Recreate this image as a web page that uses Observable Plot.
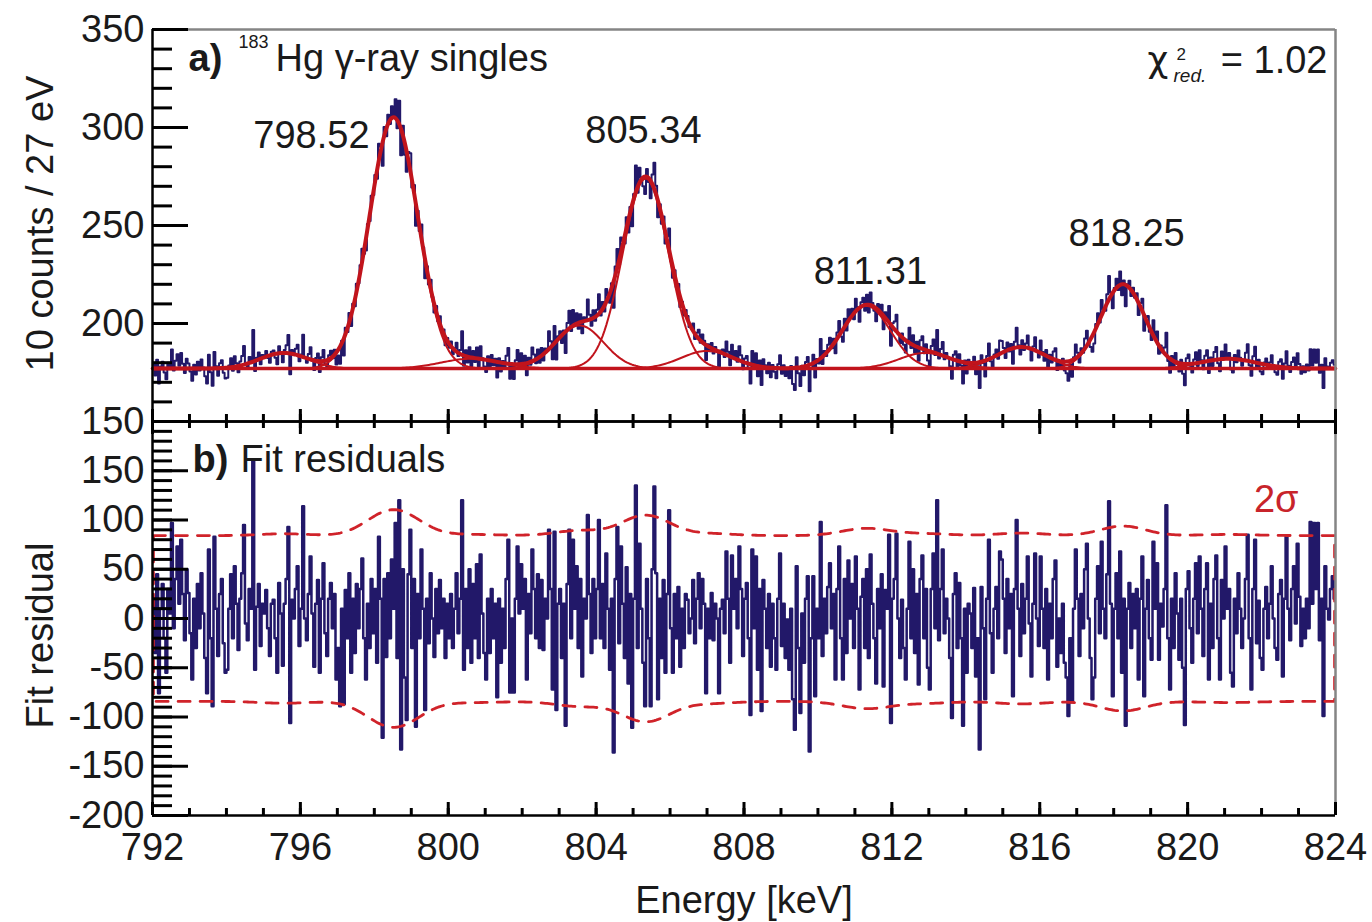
<!DOCTYPE html>
<html><head><meta charset="utf-8">
<script src="https://cdn.jsdelivr.net/npm/d3@7"></script>
<script src="https://cdn.jsdelivr.net/npm/@observablehq/plot@0.6"></script>
<style>
html,body{margin:0;padding:0;background:#fff;}
#wrap{position:relative;width:1372px;height:922px;background:#fff;}
#wrap svg{position:absolute;left:0;top:0;}
</style></head><body><div id="wrap"></div>
<script>
// ---------------- data ----------------
const energyStart = 792;          // keV, first bin edge
const binWidth = 0.05;            // keV per plotted residual sample
// Fit residuals (counts), 20 samples per keV, rows 792 ... 823 keV
const residualRows = [
[20,-35,45,-76,10,35,-20,-55,30,5,97,-10,40,73,15,80,25,-22,50,26],
[-15,-62,20,-30,35,-10,46,5,-40,-76,70,-20,-89,83,10,-38,25,40,-25,-55],
[-52,10,45,-20,53,15,-32,20,46,95,-5,-22,30,10,161,-52,12,35,-28,15],
[5,29,-10,-38,15,19,-20,-55,36,5,-48,15,40,93,-106,19,0,30,53,-28],
[10,114,0,-22,25,63,5,-49,15,39,-55,20,56,-15,-38,20,36,-10,25,-62],
[-30,-89,10,-87,29,-20,46,-55,20,-35,35,-10,30,61,-20,-62,15,-30,40,-15],
[30,-45,83,20,-121,40,-39,46,-20,60,10,97,-40,120,-133,50,-60,-103,45,90],
[-30,40,-110,25,-20,70,10,-93,20,-25,46,0,-39,30,-15,39,-10,20,-40,15],
[-20,25,-30,10,46,-15,20,120,-52,30,-30,50,-45,35,-20,55,-40,65,5,-35],
[-62,20,-35,30,-20,15,-80,20,-45,10,-30,40,80,-75,0,-75,20,73,5,55],
[10,40,-62,25,-15,70,30,-20,45,-30,39,-32,20,0,90,30,-72,88,-93,15],
[30,-40,15,-109,35,90,-20,80,10,53,-30,40,-59,20,0,105,25,-35,40,-20],
[30,100,-20,35,-30,66,10,-52,20,-136,40,93,-25,73,15,-40,52,-66,25,-111],
[20,135,-30,76,10,-45,-89,40,-20,-89,50,134,46,-82,20,-40,39,-55,25,110],
[-10,-55,25,-20,32,-49,10,-30,25,19,-15,0,39,-25,20,46,-10,40,15,-76],
[10,-20,26,-22,15,0,-76,10,19,-15,68,20,-45,64,10,40,-10,73,30,-38],
[20,36,-20,-98,70,-10,63,-52,30,-94,39,10,-30,25,-49,15,-20,-52,20,66],
[-28,15,-40,-1,-52,10,-82,-113,53,-30,-96,5,-45,20,43,-135,-20,43,-79,10],
[-20,98,-38,20,-15,32,56,-10,25,-62,30,73,-20,-62,40,-35,59,0,35,-30],
[63,10,-72,22,40,-30,50,-40,65,15,-20,-66,30,-10,45,-69,29,10,85,-106],
[20,40,86,0,-40,19,-30,-62,10,78,-20,50,-35,25,-67,40,64,-20,30,-50],
[-72,30,66,-10,120,-22,30,70,-15,20,0,-40,-101,25,46,-30,36,-20,-109,10],
[-55,15,5,-30,31,-59,-20,-133,32,-10,-82,20,80,-15,-55,10,32,-20,68,60],
[20,-35,40,-10,25,-79,30,100,10,-38,35,-15,20,63,-5,-59,15,66,0,-28],
[63,10,-30,30,-62,15,-20,40,59,-49,0,-35,15,-45,-60,-99,-20,-85,10,70],
[20,-38,25,-10,50,76,0,-40,-82,-60,20,53,-15,78,10,-20,45,119,15,-79],
[10,46,-20,68,-55,20,-109,10,36,-30,25,-10,30,-62,20,63,-79,10,39,-20],
[-42,78,10,56,-42,15,-8,30,115,-20,-72,20,-30,46,5,-42,20,-50,-108,30],
[48,-10,-45,20,56,-15,63,10,-38,30,56,-62,15,-30,40,64,-20,-62,39,0],
[73,10,30,-55,-69,20,-15,46,10,-30,0,40,85,-20,-72,30,80,-25,18,-40],
[-52,10,32,-20,15,53,0,-30,-42,25,39,-59,20,83,10,-22,30,53,-5,76],
[22,-28,10,-20,20,-10,98,15,97,30,97,-22,20,-99,53,10,-1,30,43,20]
];
// Fit: flat background plus Gaussian components (parameters)
const background = 177;                       // 10 counts / 27 eV
const peakCenters    = [795.55, 798.52, 800.6, 803.55, 805.34, 807.0, 811.31, 812.9, 815.5, 818.25, 821.1];
const peakAmplitudes = [8,      128,    5,     22,     97,     9,     32,     8,     11,    43,     5];
const peakSigmas     = [0.65,   0.65,   0.8,   0.65,   0.62,   0.7,   0.65,   0.7,   0.65,  0.6,    0.75];
// Labelled peaks
const peakLabels = ["798.52", "805.34", "811.31", "818.25"];
const chiValue = "= 1.02";
// Axis ticks and labels
const xTickLabels = [792, 796, 800, 804, 808, 812, 816, 820, 824];
const yTickLabelsA = [150, 200, 250, 300, 350];
const yTickLabelsB = [-200, -150, -100, -50, 0, 50, 100, 150];

// ---------------- layout (positions, not data) ----------------
const peakLabelX = [796.30, 805.28, 811.42, 818.35];
const peakLabelY = [295.5, 298.1, 226.6, 246.0];

// ---------------- derived series ----------------
const residuals = residualRows.flat();
const energies = residuals.map((_, i) => energyStart + binWidth * (i + 0.5));
const comp = (k, e) => peakAmplitudes[k] * Math.exp(-0.5 * ((e - peakCenters[k]) / peakSigmas[k]) ** 2);
const fitAt = e => background + peakCenters.reduce((s, _, k) => s + comp(k, e), 0);
const spectrum = energies.map((e, i) => ({e, v: fitAt(e) + residuals[i] / 10}));
const fitLine = energies.map(e => ({e, v: fitAt(e)}));
const compLines = peakCenters.flatMap((_, k) => energies.map(e => ({e, v: background + comp(k, e), k})));
const bgLine = [{e: 792, v: background}, {e: 824, v: background}];
const resid = energies.map((e, i) => ({e, r: residuals[i]}));
const upper = energies.map(e => ({e, r: 2 * Math.sqrt(10 * fitAt(e))}));
const lower = upper.map(d => ({e: d.e, r: -d.r})).reverse();
const band = [...upper, ...lower, upper[0]];

// ---------------- styling ----------------
const navy = "#221869", red = "#c1141c", dashRed = "#d0232a", ink = "#1a1a1a", frameGray = "#858585";
const FONT = "'Liberation Sans', Arial, Helvetica, sans-serif";
const FS = 38;
const W = 1372, H = 922, ML = 152, MR = 37;
const plotW = W - ML - MR;
const xMinor = d3.range(792, 825, 1);

// ---------------- panel a ----------------
const topA = 29, botA = 421, hA = botA - topA;
const yMinorA = d3.range(150, 351, 10);
const plotA = Plot.plot({
  width: W, height: H, marginLeft: ML, marginRight: MR, marginTop: topA, marginBottom: H - botA,
  style: {background: "transparent", fontFamily: FONT, overflow: "visible"},
  x: {domain: [792, 824], axis: null},
  y: {domain: [150, 350], axis: null},
  marks: [
    Plot.line(spectrum, {x: "e", y: "v", curve: "step", stroke: navy, strokeWidth: 2}),
    Plot.line(compLines, {x: "e", y: "v", z: "k", stroke: red, strokeWidth: 2}),
    Plot.line(bgLine, {x: "e", y: "v", stroke: red, strokeWidth: 3.5}),
    Plot.line(fitLine, {x: "e", y: "v", stroke: red, strokeWidth: 4, curve: "monotone-x"}),
    // frame
    Plot.ruleY([350], {stroke: frameGray, strokeWidth: 2.5}),
    Plot.ruleX([824], {stroke: frameGray, strokeWidth: 2.5}),
    Plot.ruleX([792], {stroke: "#000", strokeWidth: 2.5}),
    Plot.ruleY([150], {stroke: "#000", strokeWidth: 2.5}),
    // y ticks (inward)
    Plot.tickY(yMinorA, {y: d => d, insetRight: plotW - 20, stroke: "#000", strokeWidth: 3}),
    Plot.tickY(yTickLabelsA, {y: d => d, insetRight: plotW - 36, stroke: "#000", strokeWidth: 3}),
    // x ticks at bottom, pointing up
    Plot.tickX(xMinor, {x: d => d, insetTop: hA - 7, stroke: "#000", strokeWidth: 3}),
    Plot.tickX(xTickLabels, {x: d => d, insetTop: hA - 12, stroke: "#000", strokeWidth: 3}),
    // y tick labels
    Plot.text(yTickLabelsA, {y: d => d, text: d => String(d), frameAnchor: "left", dx: -8, textAnchor: "end", lineAnchor: "middle", fontSize: FS, fill: ink}),
    // y title
    Plot.text(["10 counts / 27 eV"], {text: d => d, frameAnchor: "left", dx: -112, dy: -2, rotate: -90, textAnchor: "middle", lineAnchor: "middle", fontSize: FS, fill: ink}),
    // peak labels
    Plot.text(peakLabels, {x: (d, i) => peakLabelX[i], y: (d, i) => peakLabelY[i], text: d => d, textAnchor: "middle", fontSize: FS, fill: ink, lineAnchor: "middle"}),
    // panel title
    Plot.text(["a)"], {text: d => d, frameAnchor: "top-left", dx: 36, dy: 29, textAnchor: "start", lineAnchor: "middle", fontSize: FS, fontWeight: "bold", fill: ink}),
    Plot.text(["183"], {text: d => d, frameAnchor: "top-left", dx: 86, dy: 12.5, textAnchor: "start", lineAnchor: "middle", fontSize: 18, fill: ink}),
    Plot.text(["Hg γ-ray singles"], {text: d => d, frameAnchor: "top-left", dx: 123, dy: 29, textAnchor: "start", lineAnchor: "middle", fontSize: FS, fill: ink}),
    // chi-square
    Plot.text(["χ"], {text: d => d, frameAnchor: "top-right", dx: -188, dy: 31, textAnchor: "start", lineAnchor: "middle", fontSize: 36, fontFamily: "'DejaVu Sans', sans-serif", fill: ink}),
    Plot.text(["2"], {text: d => d, frameAnchor: "top-right", dx: -159, dy: 25.5, textAnchor: "start", lineAnchor: "middle", fontSize: 17, fill: ink}),
    Plot.text(["red."], {text: d => d, frameAnchor: "top-right", dx: -162, dy: 46, textAnchor: "start", lineAnchor: "middle", fontSize: 19, fontStyle: "italic", fill: ink}),
    Plot.text([chiValue], {text: d => d, frameAnchor: "top-right", dx: -8, dy: 31, textAnchor: "end", lineAnchor: "middle", fontSize: FS, fill: ink})
  ]
});

// ---------------- panel b ----------------
const topB = 421, botB = 815, hB = botB - topB;
const yMinorB = d3.range(-200, 201, 10);
const yMajorB = d3.range(-200, 201, 50);
const plotB = Plot.plot({
  width: W, height: H, marginLeft: ML, marginRight: MR, marginTop: topB, marginBottom: H - botB,
  style: {background: "transparent", fontFamily: FONT, overflow: "visible"},
  x: {domain: [792, 824], axis: null},
  y: {domain: [-200, 200], axis: null},
  marks: [
    Plot.line(resid, {x: "e", y: "r", curve: "step", stroke: navy, strokeWidth: 2.5}),
    Plot.line(band, {x: "e", y: "r", stroke: dashRed, strokeWidth: 2.8, strokeDasharray: "12,10"}),
    // frame
    Plot.ruleX([824], {stroke: frameGray, strokeWidth: 2.5}),
    Plot.ruleX([792], {stroke: "#000", strokeWidth: 2.5}),
    Plot.ruleY([-200], {stroke: "#000", strokeWidth: 2.5}),
    Plot.ruleY([200], {stroke: "#000", strokeWidth: 2.5}),
    // y ticks
    Plot.tickY(yMinorB, {y: d => d, insetRight: plotW - 20, stroke: "#000", strokeWidth: 3}),
    Plot.tickY(yMajorB, {y: d => d, insetRight: plotW - 36, stroke: "#000", strokeWidth: 3}),
    // x ticks: top pointing down, bottom pointing up
    Plot.tickX(xMinor, {x: d => d, insetBottom: hB - 7, stroke: "#000", strokeWidth: 3}),
    Plot.tickX(xTickLabels, {x: d => d, insetBottom: hB - 13, stroke: "#000", strokeWidth: 3}),
    Plot.tickX(xMinor, {x: d => d, insetTop: hB - 7, stroke: "#000", strokeWidth: 3}),
    Plot.tickX(xTickLabels, {x: d => d, insetTop: hB - 13, stroke: "#000", strokeWidth: 3}),
    // tick labels
    Plot.text(yTickLabelsB, {y: d => d, text: d => String(d), frameAnchor: "left", dx: -8, textAnchor: "end", lineAnchor: "middle", fontSize: FS, fill: ink}),
    Plot.text(xTickLabels, {x: d => d, text: d => String(d), frameAnchor: "bottom", dy: 18, textAnchor: "middle", lineAnchor: "top", fontSize: FS, fill: ink}),
    // titles
    Plot.text(["Fit residual"], {text: d => d, frameAnchor: "left", dx: -112, dy: 17, rotate: -90, textAnchor: "middle", lineAnchor: "middle", fontSize: FS, fill: ink}),
    Plot.text(["Energy [keV]"], {text: d => d, frameAnchor: "bottom", dy: 85, textAnchor: "middle", lineAnchor: "middle", fontSize: FS, fill: ink}),
    Plot.text(["b)"], {text: d => d, frameAnchor: "top-left", dx: 40, dy: 38.5, textAnchor: "start", lineAnchor: "middle", fontSize: FS, fontWeight: "bold", fill: ink}),
    Plot.text(["Fit residuals"], {text: d => d, frameAnchor: "top-left", dx: 88, dy: 38.5, textAnchor: "start", lineAnchor: "middle", fontSize: FS, fill: ink}),
    Plot.text(["2σ"], {x: [823], y: [120], text: () => "2σ", textAnchor: "end", lineAnchor: "middle", fontSize: FS, fill: "#c8242b"})
  ]
});

const wrap = document.getElementById("wrap");
wrap.appendChild(plotA);
wrap.appendChild(plotB);
</script>
</body></html>
